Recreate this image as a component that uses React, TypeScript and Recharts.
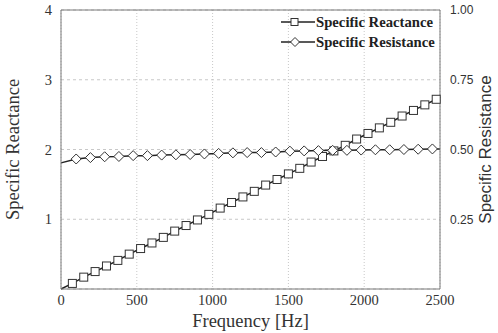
import { LineChart, Line, XAxis, YAxis, CartesianGrid, ReferenceLine } from "recharts"

// frequency (Hz) of each plotted point, with the read values
const reactanceFreq = [0, 75, 150, 225, 300, 375, 450, 525, 600, 675, 750, 825, 900, 975, 1050, 1125, 1200, 1275, 1350, 1425, 1500, 1575, 1650, 1725, 1800, 1875, 1950, 2025, 2100, 2175, 2250, 2325, 2400, 2475, 2500]
const reactanceVal = [0.0, 0.08, 0.17, 0.25, 0.33, 0.41, 0.5, 0.58, 0.66, 0.74, 0.83, 0.91, 0.99, 1.07, 1.16, 1.24, 1.32, 1.4, 1.49, 1.57, 1.65, 1.73, 1.82, 1.9, 1.98, 2.06, 2.15, 2.23, 2.31, 2.39, 2.48, 2.56, 2.64, 2.72, 2.75]

const resistanceFreq = [0, 100, 194, 288, 382, 476, 570, 664, 758, 852, 946, 1040, 1134, 1228, 1322, 1416, 1510, 1604, 1698, 1792, 1886, 1980, 2074, 2168, 2262, 2356, 2450, 2500]
const resistanceVal = [0.452, 0.466, 0.471, 0.474, 0.475, 0.478, 0.478, 0.48, 0.481, 0.482, 0.484, 0.486, 0.488, 0.489, 0.489, 0.491, 0.494, 0.495, 0.496, 0.497, 0.497, 0.498, 0.499, 0.499, 0.5, 0.501, 0.502, 0.502]

const freqTicks = [0, 500, 1000, 1500, 2000, 2500]
const reactanceTicks = [1, 2, 3, 4]
const resistanceTicks = [0.25, 0.5, 0.75, 1.0]

const reactanceData = reactanceFreq.map((f, i) => ({ f, v: reactanceVal[i] }))
const resistanceData = resistanceFreq.map((f, i) => ({ f, v: resistanceVal[i] }))

const serif = '"Liberation Serif", "Times New Roman", serif'
const sans = '"Liberation Sans", Arial, sans-serif'
const frame = "#7a7a7a"

function SquareDot(props: any) {
  const { cx, cy, index } = props
  if (index === 0 || index === reactanceData.length - 1) return <g key={"s" + index} />
  return <rect key={"s" + index} x={cx - 4} y={cy - 4} width={8} height={8} fill="#fff" stroke="#333" strokeWidth={1} />
}

function DiamondDot(props: any) {
  const { cx, cy, index } = props
  if (index === 0 || index === resistanceData.length - 1) return <g key={"d" + index} />
  return (
    <polygon
      key={"d" + index}
      points={`${cx},${cy - 5} ${cx + 5},${cy} ${cx},${cy + 5} ${cx - 5},${cy}`}
      fill="#fff"
      stroke="#333"
      strokeWidth={1}
    />
  )
}

function LegendBox() {
  const items = [
    { name: "Specific Reactance", shape: "square" },
    { name: "Specific Resistance", shape: "diamond" },
  ]
  return (
    <div style={{ position: "absolute", left: 281, top: 13, display: "flex", flexDirection: "column", gap: 2 }}>
      {items.map((it) => (
        <div key={it.name} style={{ display: "flex", alignItems: "center", height: 18 }}>
          <svg width={34} height={12}>
            <line x1={0} y1={6} x2={34} y2={6} stroke="#222" strokeWidth={1.5} />
            {it.shape === "square" ? (
              <rect x={10} y={2.5} width={7} height={7} fill="#fff" stroke="#333" />
            ) : (
              <polygon points="14,1.5 18.5,6 14,10.5 9.5,6" fill="#fff" stroke="#333" />
            )}
          </svg>
          <span style={{ fontFamily: serif, fontWeight: "bold", fontSize: 14.7, color: "#222", marginLeft: 1 }}>
            {it.name}
          </span>
        </div>
      ))}
    </div>
  )
}

export default function App() {
  return (
    <div style={{ position: "absolute", left: 0, top: 0, width: 498, height: 333, background: "#fff" }}>
      <LineChart width={498} height={333} margin={{ top: 10, right: 2, left: 4, bottom: 2 }}>
        <CartesianGrid yAxisId="left" horizontal={false} stroke="#c8c8c8" strokeDasharray="1 2" />
        <CartesianGrid yAxisId="left" vertical={false} stroke="#c8c8c8" strokeDasharray="3 3" />
        <XAxis
          dataKey="f"
          type="number"
          domain={[0, 2500]}
          ticks={freqTicks}
          stroke={frame}
          tickLine={false}
          tickMargin={0}
          height={42}
          tick={{ fill: "#333", fontFamily: serif, fontSize: 14.5 }}
          label={{ value: "Frequency [Hz]", position: "insideBottom", offset: 4, fill: "#333", fontFamily: serif, fontSize: 18.5 }}
        />
        <YAxis
          yAxisId="left"
          domain={[0, 4]}
          ticks={reactanceTicks}
          stroke={frame}
          tickLine={false}
          tickMargin={3}
          width={57}
          tick={{ fill: "#333", fontFamily: serif, fontSize: 14.5 }}
          label={{ value: "Specific Reactance", angle: -90, position: "insideLeft", offset: 8, fill: "#333", fontFamily: serif, fontSize: 18.5, style: { textAnchor: "middle" } }}
        />
        <YAxis
          yAxisId="right"
          orientation="right"
          domain={[0, 1]}
          ticks={resistanceTicks}
          tickFormatter={(v: number) => v.toFixed(2)}
          stroke={frame}
          tickLine={false}
          tickMargin={4}
          width={56}
          tick={{ fill: "#333", fontFamily: sans, fontSize: 12 }}
          label={{ value: "Specific Resistance", angle: -90, position: "insideRight", offset: 11, fill: "#333", fontFamily: sans, fontSize: 17, style: { textAnchor: "middle" } }}
        />
        <ReferenceLine yAxisId="left" y={4} stroke={frame} />
        <Line
          yAxisId="left"
          data={reactanceData}
          dataKey="v"
          type="linear"
          stroke="#222"
          strokeWidth={1.5}
          dot={SquareDot}
          isAnimationActive={false}
        />
        <Line
          yAxisId="right"
          data={resistanceData}
          dataKey="v"
          type="linear"
          stroke="#222"
          strokeWidth={1.5}
          dot={DiamondDot}
          isAnimationActive={false}
        />
      </LineChart>
      <LegendBox />
    </div>
  )
}
